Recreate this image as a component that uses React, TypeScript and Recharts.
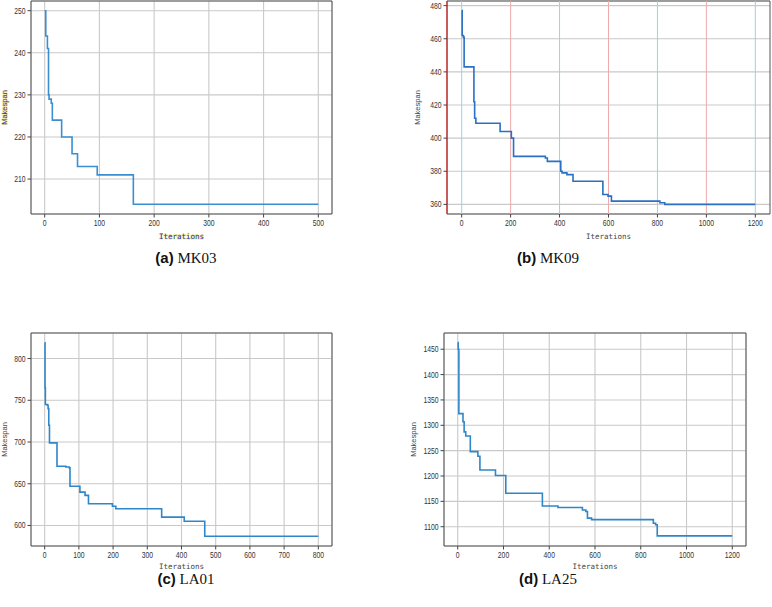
import React from 'react';
import {
  LineChart,
  Line,
  XAxis,
  YAxis,
  CartesianGrid,
  ReferenceArea,
  ReferenceLine,
} from 'recharts';

// (a) MK03
const mk03Iter = [0, 2, 5, 7, 8, 12, 14, 31, 50, 60, 96, 162, 500];
const mk03Span = [250, 244, 241, 230, 229, 228, 224, 220, 216, 213, 211, 204, 204];
const mk03XTicks = [0, 100, 200, 300, 400, 500];
const mk03YTicks = [210, 220, 230, 240, 250];

// (b) MK09
const mk09Iter = [0, 2, 7, 10, 50, 53, 58, 157, 203, 212, 342, 350, 405, 410, 430, 455, 577, 598, 612, 810, 830, 1200];
const mk09Span = [477, 462, 461, 443, 422, 412, 409, 404, 400, 389, 388, 386, 380, 379, 378, 374, 366, 365, 362, 361, 360, 360];
const mk09XTicks = [0, 200, 400, 600, 800, 1000, 1200];
const mk09YTicks = [360, 380, 400, 420, 440, 460, 480];

// (c) LA01
const la01Iter = [0, 1, 2, 8, 10, 12, 14, 36, 62, 72, 74, 103, 118, 128, 198, 208, 342, 408, 468, 800];
const la01Span = [819, 765, 745, 744, 740, 720, 699, 671, 670, 669, 647, 640, 636, 626, 623, 620, 610, 605, 587, 587];
const la01XTicks = [0, 100, 200, 300, 400, 500, 600, 700, 800];
const la01YTicks = [600, 650, 700, 750, 800];

// (d) LA25
const la25Iter = [0, 2, 5, 23, 28, 35, 55, 88, 97, 165, 210, 370, 438, 545, 560, 567, 585, 855, 865, 872, 1200];
const la25Span = [1463, 1450, 1323, 1307, 1287, 1279, 1248, 1239, 1212, 1201, 1166, 1141, 1138, 1133, 1130, 1117, 1114, 1107, 1104, 1082, 1082];
const la25XTicks = [0, 200, 400, 600, 800, 1000, 1200];
const la25YTicks = [1100, 1150, 1200, 1250, 1300, 1350, 1400, 1450];

const toRows = (xs: number[], ys: number[]) => xs.map((x, i) => ({ it: x, span: ys[i] }));

const tickFont = 'Liberation Sans, Arial, sans-serif';

const XTick = (props: any) => {
  const { x, y, payload } = props;
  return (
    <text
      transform={`translate(${x},${y}) scale(0.8,1)`}
      textAnchor="middle"
      dy="0.75em"
      fontSize={8.5}
      fontFamily={tickFont}
      fill="#333"
    >
      {payload.value}
    </text>
  );
};

const YTick = (props: any) => {
  const { x, y, payload } = props;
  return (
    <text
      transform={`translate(${x},${y}) scale(0.8,1)`}
      textAnchor="end"
      dy="0.35em"
      fontSize={8.5}
      fontFamily={tickFont}
      fill="#333"
    >
      {payload.value}
    </text>
  );
};

type PanelProps = {
  rows: { it: number; span: number }[];
  xDomain: [number, number];
  yDomain: [number, number];
  xTicks: number[];
  yTicks: number[];
  left: number;
  top: number;
  width: number;
  height: number;
  margin: { top: number; right: number; left: number; bottom: number };
  yAxisWidth: number;
  xAxisHeight: number;
  yLabelOffset: number;
  lineColor: string;
  labelColor: string;
  halo?: boolean;
  fancyGrid?: boolean;
};

function Panel(p: PanelProps) {
  const labelStyle: any = {
    fill: p.labelColor,
    fontSize: 7.5,
    fontFamily: 'DejaVu Sans Mono, monospace',
  };
  if (p.halo) {
    labelStyle.stroke = '#f3ee8a';
    labelStyle.strokeWidth = 1.2;
    labelStyle.paintOrder = 'stroke';
  }
  return (
    <div style={{ position: 'absolute', left: p.left, top: p.top }}>
      <LineChart width={p.width} height={p.height} data={p.rows} margin={p.margin}>
        <CartesianGrid stroke="#c9c9c9" strokeWidth={1.1} vertical={!p.fancyGrid} />
        {p.fancyGrid &&
          p.xTicks.map((t, i) => (
            <ReferenceLine
              key={t}
              x={t}
              stroke={i % 2 === 0 ? '#8fd8e3' : '#efaaaa'}
              strokeWidth={1}
            />
          ))}
        <XAxis
          dataKey="it"
          type="number"
          domain={p.xDomain}
          ticks={p.xTicks}
          allowDataOverflow
          axisLine={false}
          tickLine={{ stroke: '#444' }}
          tickSize={3.5}
          tickMargin={2}
          height={p.xAxisHeight}
          tick={<XTick />}
          interval={0}
          label={{
            value: 'Iterations',
            position: 'insideBottom',
            offset: 6,
            style: labelStyle,
          }}
        />
        <YAxis
          dataKey="span"
          type="number"
          domain={p.yDomain}
          ticks={p.yTicks}
          allowDataOverflow
          axisLine={false}
          tickLine={{ stroke: '#444' }}
          tickSize={3.5}
          tickMargin={2}
          width={p.yAxisWidth}
          tick={<YTick />}
          interval={0}
          label={{
            value: 'Makespan',
            angle: -90,
            position: 'insideLeft',
            offset: p.yLabelOffset,
            style: { ...labelStyle, textAnchor: 'middle', fontFamily: tickFont, fontSize: 7.5 },
          }}
        />
        <Line
          type="stepAfter"
          dataKey="span"
          stroke={p.lineColor}
          strokeWidth={1.6}
          dot={false}
          isAnimationActive={false}
        />
        <ReferenceArea
          x1={p.xDomain[0]}
          x2={p.xDomain[1]}
          y1={p.yDomain[0]}
          y2={p.yDomain[1]}
          fill="none"
          stroke="#555"
          strokeWidth={1}
          ifOverflow="visible"
        />
        {p.fancyGrid && (
          <ReferenceLine x={p.xDomain[0]} stroke="#e02828" strokeWidth={1.2} ifOverflow="visible" />
        )}
      </LineChart>
    </div>
  );
}

function Caption({ letter, name, cx, cy }: { letter: string; name: string; cx: number; cy: number }) {
  return (
    <div
      style={{
        position: 'absolute',
        left: cx - 60,
        top: cy - 10,
        width: 120,
        textAlign: 'center',
        fontSize: 15,
        lineHeight: '20px',
        color: '#111',
        whiteSpace: 'nowrap',
      }}
    >
      <span style={{ fontFamily: 'Liberation Sans, Arial, sans-serif', fontWeight: 'bold' }}>({letter})</span>
      <span style={{ fontFamily: 'Liberation Serif, Times New Roman, serif' }}> {name}</span>
    </div>
  );
}

export default function App() {
  return (
    <div style={{ position: 'absolute', left: 0, top: 0, width: 772, height: 607, background: '#fff', overflow: 'hidden' }}>
      <Panel
        rows={toRows(mk03Iter, mk03Span)}
        xDomain={[-25, 525]}
        yDomain={[201.7, 252.3]}
        xTicks={mk03XTicks}
        yTicks={mk03YTicks}
        left={0}
        top={0}
        width={340}
        height={245}
        margin={{ top: 1, right: 8, left: 0, bottom: 0 }}
        yAxisWidth={31}
        xAxisHeight={31}
        yLabelOffset={4}
        lineColor="#3b8fd0"
        labelColor="#2a2ad0"
        halo
      />
      <Panel
        rows={toRows(mk09Iter, mk09Span)}
        xDomain={[-60, 1260]}
        yDomain={[354.2, 482.8]}
        xTicks={mk09XTicks}
        yTicks={mk09YTicks}
        left={400}
        top={0}
        width={372}
        height={245}
        margin={{ top: 1, right: 2, left: 0, bottom: 0 }}
        yAxisWidth={47}
        xAxisHeight={31}
        yLabelOffset={17}
        lineColor="#2a70c4"
        labelColor="#444"
        fancyGrid
      />
      <Panel
        rows={toRows(la01Iter, la01Span)}
        xDomain={[-40, 840]}
        yDomain={[575.4, 830.6]}
        xTicks={la01XTicks}
        yTicks={la01YTicks}
        left={0}
        top={300}
        width={340}
        height={275}
        margin={{ top: 33, right: 8, left: 0, bottom: 0 }}
        yAxisWidth={31}
        xAxisHeight={29}
        yLabelOffset={4}
        lineColor="#2f86c8"
        labelColor="#444"
      />
      <Panel
        rows={toRows(la25Iter, la25Span)}
        xDomain={[-60, 1260]}
        yDomain={[1062, 1482]}
        xTicks={la25XTicks}
        yTicks={la25YTicks}
        left={400}
        top={300}
        width={372}
        height={275}
        margin={{ top: 33, right: 26, left: 0, bottom: 0 }}
        yAxisWidth={44}
        xAxisHeight={29}
        yLabelOffset={13}
        lineColor="#2f86c8"
        labelColor="#444"
      />
      <Caption letter="a" name="MK03" cx={186} cy={258} />
      <Caption letter="b" name="MK09" cx={548} cy={258} />
      <Caption letter="c" name="LA01" cx={186} cy={579} />
      <Caption letter="d" name="LA25" cx={548} cy={579} />
    </div>
  );
}
